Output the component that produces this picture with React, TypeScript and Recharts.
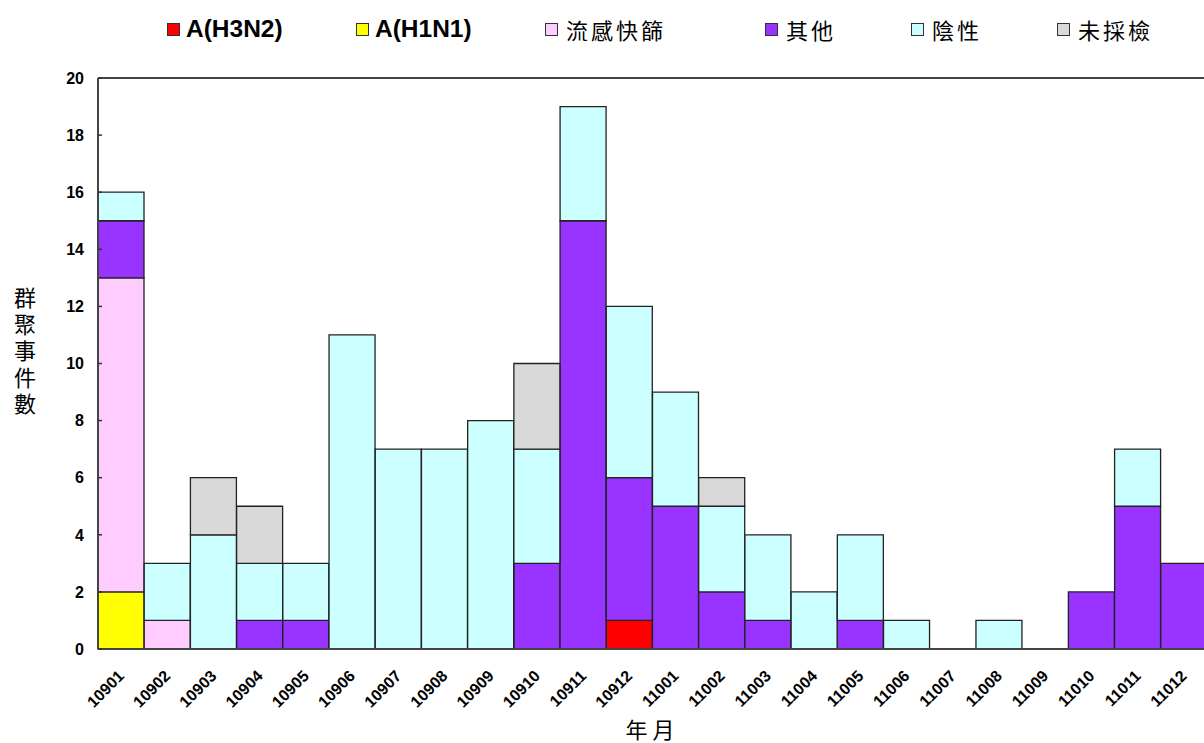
import React from 'react';
import { BarChart, Bar, XAxis, YAxis, Legend, ReferenceLine, Label } from 'recharts';

const months = ['10901','10902','10903','10904','10905','10906','10907','10908','10909','10910','10911','10912','11001','11002','11003','11004','11005','11006','11007','11008','11009','11010','11011','11012'];
const h3n2 =      [0,0,0,0,0,0,0,0,0,0,0,1,0,0,0,0,0,0,0,0,0,0,0,0];
const h1n1 =      [2,0,0,0,0,0,0,0,0,0,0,0,0,0,0,0,0,0,0,0,0,0,0,0];
const rapidTest = [11,1,0,0,0,0,0,0,0,0,0,0,0,0,0,0,0,0,0,0,0,0,0,0];
const others =    [2,0,0,1,1,0,0,0,0,3,15,5,5,2,1,0,1,0,0,0,0,2,5,3];
const negative =  [1,2,4,2,2,11,7,7,8,4,4,6,4,3,3,2,3,1,0,1,0,0,2,0];
const notTested = [0,0,2,2,0,0,0,0,0,3,0,0,0,1,0,0,0,0,0,0,0,0,0,0];
const yTicks = [0,2,4,6,8,10,12,14,16,18,20];

const seriesNames = ['A(H3N2)','A(H1N1)','流感快篩','其他','陰性','未採檢'];
const seriesKeys = ['h3n2','h1n1','rapid','others','negative','notTested'];
const seriesColors = ['#FF0000','#FFFF00','#FFCCFF','#9933FF','#CCFFFF','#D9D9D9'];
const seriesValues = [h3n2, h1n1, rapidTest, others, negative, notTested];

const data = months.map((m, i) => {
  const row: Record<string, string | number> = { month: m };
  seriesKeys.forEach((k, s) => { row[k] = seriesValues[s][i]; });
  return row;
});

const LATIN = '"Liberation Sans", Arial, sans-serif';
const CJK = '"Noto Sans CJK TC", "Noto Sans CJK SC", sans-serif';
const legendItemWidths = [189, 189, 220, 146, 146, 140];

const isLatin = (s: string) => /^[\x00-\x7F]+$/.test(s);

const renderLegend = () => (
  <div style={{ height: 50, display: 'flex', alignItems: 'center', paddingLeft: 167, boxSizing: 'border-box' }}>
    {seriesNames.map((n, i) => (
      <div key={n} style={{ width: legendItemWidths[i], display: 'flex', alignItems: 'center' }}>
        <div style={{ width: 11, height: 11, background: seriesColors[i], border: '1.5px solid #333', marginRight: isLatin(n) ? 6 : 8, flexShrink: 0 }} />
        <span style={isLatin(n)
          ? { fontFamily: LATIN, fontWeight: 'bold', fontSize: 24.5, color: '#000', lineHeight: '28px' }
          : { fontFamily: CJK, fontSize: 22, letterSpacing: 3, color: '#000', lineHeight: '28px' }}>{n}</span>
      </div>
    ))}
  </div>
);

const XTick = (props: any) => {
  const { x, y, payload } = props;
  const ax = x + 4;
  const ay = y + 28;
  return (
    <text x={ax} y={ay} transform={`rotate(-45 ${ax} ${ay})`} textAnchor="end"
      fontFamily={LATIN} fontWeight="bold" fontSize={16} fill="#000">{payload.value}</text>
  );
};

const YTick = (props: any) => {
  const { x, y, payload } = props;
  return (
    <g>
      <line x1={x} x2={x + 4} y1={y} y2={y} stroke="#333" strokeWidth={1.5} />
      <text x={x - 14} y={y} dy="0.36em" textAnchor="end"
        fontFamily={LATIN} fontWeight="bold" fontSize={16} fill="#000">{payload.value}</text>
    </g>
  );
};

const YLabel = (props: any) => {
  const { viewBox } = props;
  const chars = Array.from('群聚事件數');
  const cx = 25;
  const midY = viewBox.y + viewBox.height / 2 - 12;
  const step = 26.5;
  return (
    <text x={cx} y={midY - 2 * step} textAnchor="middle"
      fontFamily={CJK} fontSize={22} fill="#000">
      {chars.map((c, i) => (
        <tspan key={i} x={cx} dy={i === 0 ? '0.36em' : step}>{c}</tspan>
      ))}
    </text>
  );
};

const XLabel = (props: any) => {
  const { viewBox } = props;
  return (
    <text x={viewBox.x + viewBox.width / 2} y={730} dy="0.36em" textAnchor="middle"
      fontFamily={CJK} fontSize={22} letterSpacing={5} fill="#000">年月</text>
  );
};

export default function App() {
  return (
    <div style={{ position: 'absolute', left: 0, top: 0, width: 1204, height: 743, overflow: 'hidden', background: '#fff' }}>
      <BarChart width={1215} height={743} data={data} barCategoryGap={0} barGap={0}
        margin={{ top: 28, right: 8, bottom: 0, left: 0 }}>
        <Legend verticalAlign="top" content={renderLegend} wrapperStyle={{ top: 4, left: 0, width: 1204, height: 50 }} />
        <XAxis dataKey="month" height={94} interval={0} tick={<XTick />} tickSize={0} tickMargin={0}
          axisLine={{ stroke: '#444', strokeWidth: 2 }} tickLine={false}>
          <Label content={<XLabel />} />
        </XAxis>
        <YAxis width={98} domain={[0, 20]} ticks={yTicks} interval={0} tick={<YTick />} tickSize={0} tickMargin={0}
          axisLine={{ stroke: '#444', strokeWidth: 2 }} tickLine={false}>
          <Label content={<YLabel />} />
        </YAxis>
        <ReferenceLine y={20} stroke="#444" strokeWidth={2} />
        {seriesKeys.map((k, i) => (
          <Bar key={k} dataKey={k} name={seriesNames[i]} stackId="a" fill={seriesColors[i]}
            stroke="#222" strokeWidth={1.3} isAnimationActive={false} />
        ))}
      </BarChart>
    </div>
  );
}
